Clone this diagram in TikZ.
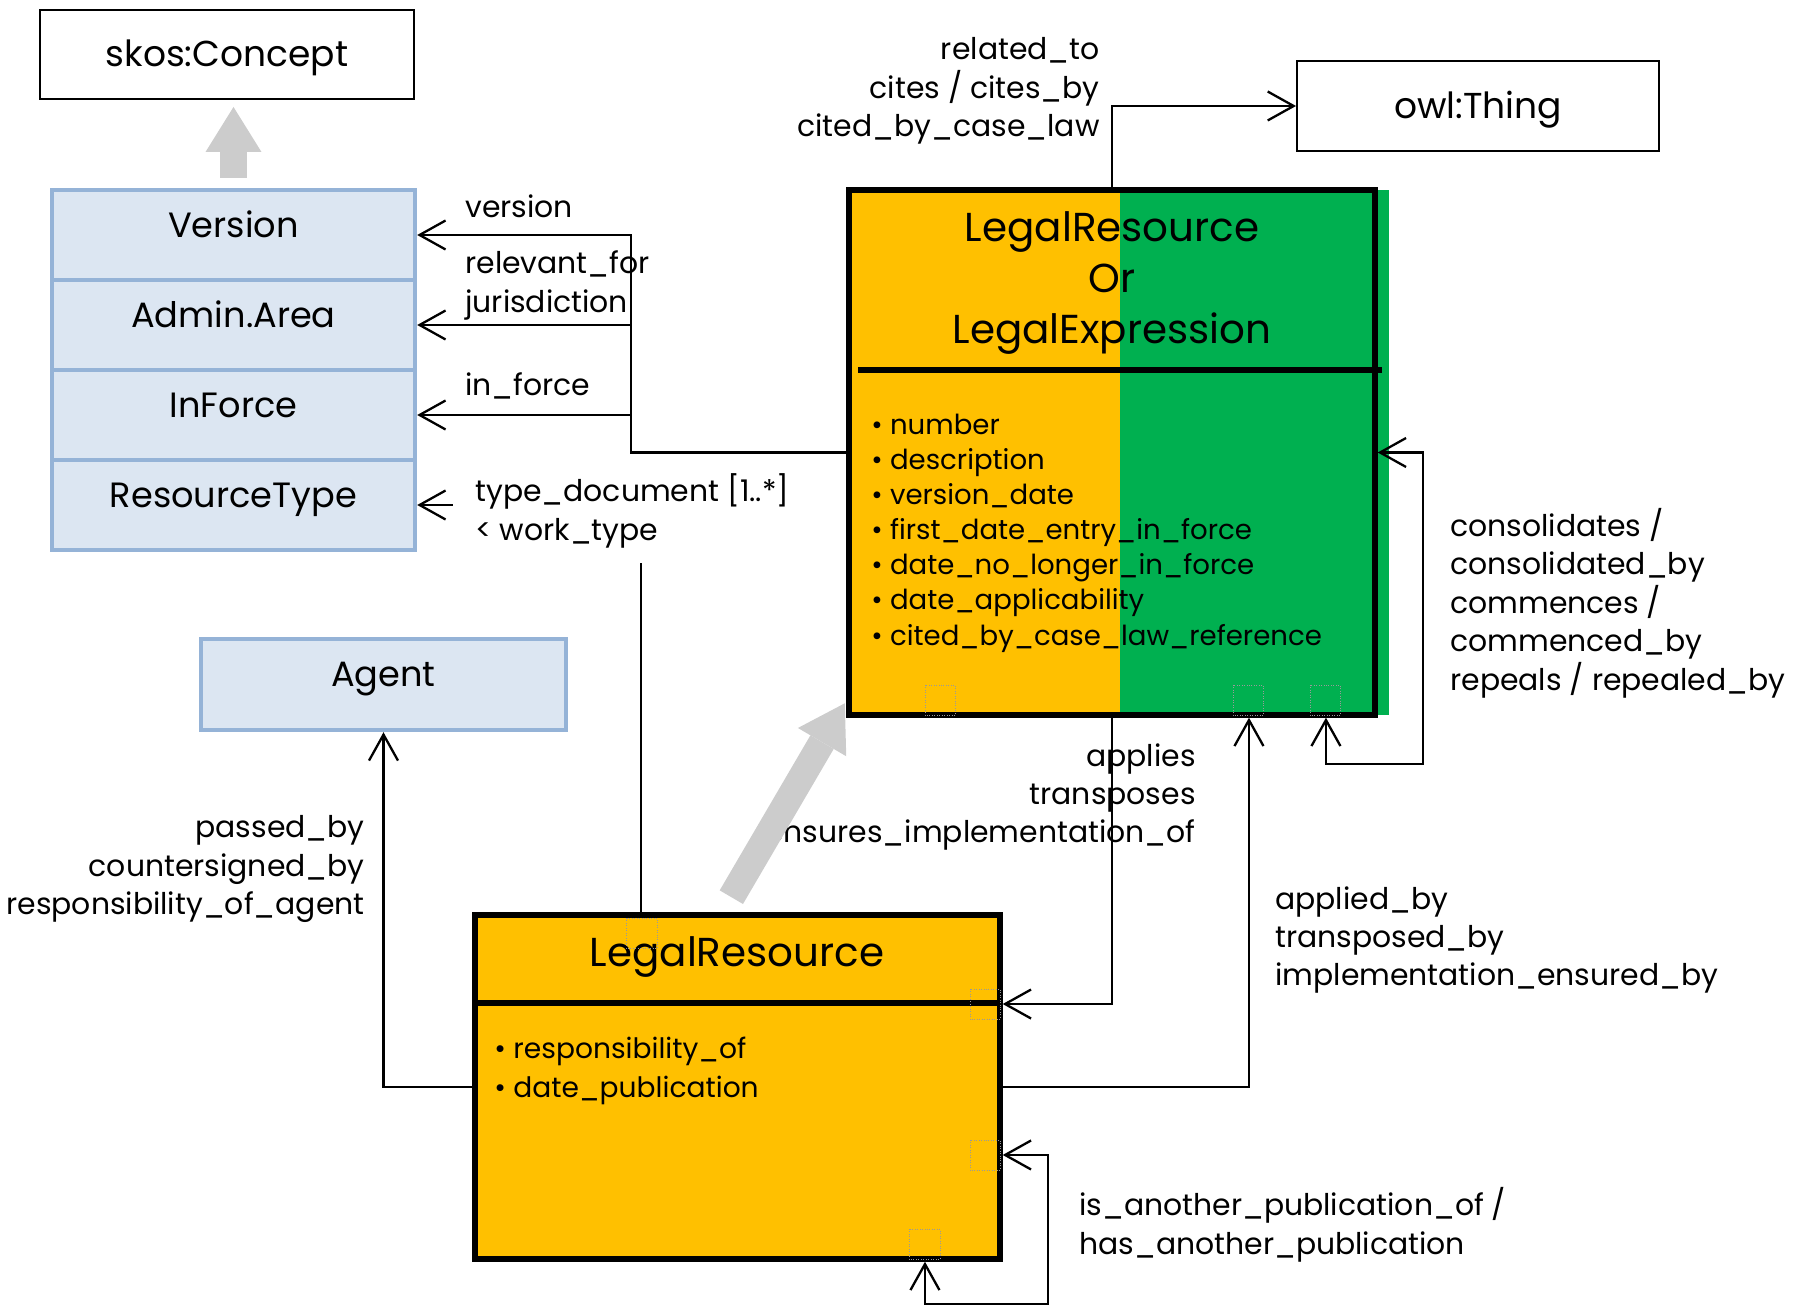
\documentclass[tikz,border=0pt]{standalone}
\usepackage{fontspec}
\setmainfont{Poppins}
\definecolor{legalorange}{RGB}{255, 192, 0}
\definecolor{legalgreen}{RGB}{0, 176, 80}
\definecolor{skosfill}{RGB}{220, 230, 242}
\definecolor{skosedge}{RGB}{149, 179, 215}
\definecolor{inheritgray}{RGB}{204, 204, 204}
\usetikzlibrary{arrows.meta, positioning, calc}

\begin{document}
\begin{tikzpicture}[x=0.02cm, y=-0.02cm,
  thingbox/.style={draw=black, line width=0.04cm, inner sep=0pt, text height=14pt, text depth=0pt,
    font=\fontsize{20.5}{24}\selectfont},
  skosbox/.style={draw=skosedge, fill=skosfill, line width=0.09cm, inner sep=0pt, minimum height=1.8cm,
    text height=13pt, text depth=10.5pt, font=\fontsize{20}{24}\selectfont},
  classbox/.style={draw=black, line width=0.11cm, inner sep=0pt},
  lbl/.style={inner sep=0pt, font=\fontsize{17}{21.9}\selectfont},
  assoc/.style={draw=black, line width=0.046cm, -{Straight Barb[length=0.52cm, width=0.58cm]}},
  bothassoc/.style={assoc, {Straight Barb[length=0.52cm, width=0.58cm]}-{Straight Barb[length=0.52cm, width=0.58cm]}},
  inherit/.style={draw=inheritgray, line width=0.54cm, -{Triangle[length=0.9cm, width=1.12cm, line width=0pt]}},
  portmark/.style={draw=gray!80, densely dotted, line width=0.4pt}]
  \useasboundingbox (0,0) rectangle (1803,1307);

  % outside vocabularies
  \node[thingbox, minimum width=7.48cm, minimum height=1.78cm] (skos) at (227,54.5) {skos:Concept};
  \node[thingbox, minimum width=7.24cm, minimum height=1.8cm] (owl) at (1478,106) {owl:Thing};

  % skos concept schemes
  \node[skosbox, minimum width=7.26cm] (ver) at (233.5,235) {Version};
  \node[skosbox, minimum width=7.26cm] (adm) at (233.5,325) {Admin.Area};
  \node[skosbox, minimum width=7.26cm] (inf) at (233.5,415) {InForce};
  \node[skosbox, minimum width=7.26cm] (rtype) at (233.5,505) {ResourceType};
  \node[skosbox, minimum width=7.3cm, minimum height=1.82cm] (agent) at (383.5,684.5) {Agent};

  % LegalResource or LegalExpression
  \fill[legalorange] (849,190) rectangle (1120,715);
  \fill[legalgreen] (1120,190) rectangle (1389,715);
  \node[classbox, minimum width=10.52cm, minimum height=10.5cm] (lre) at (1112,452.5) {};
  \draw[line width=0.11cm] (858,370) -- (1382,370);
  \node[align=center, inner sep=0pt, font=\fontsize{23}{29}\selectfont] (lretitle) at (1112,283)
    {LegalResource\\Or\\LegalExpression};
  \node[anchor=west, align=left, inner sep=0pt, font=\fontsize{15.7}{20}\selectfont] (lreattrs) at (871,533) {
    \textbullet\ number\\
    \textbullet\ description\\
    \textbullet\ version\_date\\
    \textbullet\ first\_date\_entry\_in\_force\\
    \textbullet\ date\_no\_longer\_in\_force\\
    \textbullet\ date\_applicability\\
    \textbullet\ cited\_by\_case\_law\_reference};

  % LegalResource
  \node[classbox, fill=legalorange, minimum width=10.5cm, minimum height=6.88cm] (lr) at (737.5,1087) {};
  \draw[line width=0.11cm] (475,1003) -- (1000,1003);
  \node[inner sep=0pt, font=\fontsize{23}{29}\selectfont] (lrtitle) at (737,957) {LegalResource};
  \node[anchor=west, align=left, inner sep=0pt, font=\fontsize{16}{22.2}\selectfont] (lrattrs) at (494,1071) {
    \textbullet\ responsibility\_of\\
    \textbullet\ date\_publication};

  % properties
  \coordinate (vjoin) at (631,235);
  \coordinate (rtbend) at (641,505);
  \coordinate (lreloop) at (1423,764);
  \coordinate (lrloop) at (1048,1304);
  \draw[assoc] (lre.west) -| (vjoin) -- (ver.east);
  \draw[assoc] (vjoin |- adm.east) -- (adm.east);
  \draw[assoc] (vjoin |- inf.east) -- (inf.east);
  \draw[assoc] (rtbend |- lr.north) -- (rtbend) -- (rtype.east);
  \draw[assoc] (lre.north) |- (owl.west);
  \draw[bothassoc] ([xshift=4.28cm]lre.south) |- (lreloop) |- (lre.east);
  \draw[assoc] (lre.south) |- ([yshift=1.66cm]lr.east);
  \draw[assoc] (lr.east) -| ([xshift=2.74cm]lre.south);
  \draw[bothassoc] ([yshift=-1.36cm]lr.east) -| (lrloop) -| ([xshift=3.75cm]lr.south);
  \draw[assoc] (lr.west) -| (agent.south);

  % property names
  \node[lbl, anchor=west] (lblversion) at (465,206) {version};
  \node[lbl, anchor=west, align=left] (lbljur) at (465,285.5) {relevant\_for\\jurisdiction};
  \node[lbl, anchor=west] (lblinforce) at (465,386) {in\_force};
  \node[lbl, anchor=west, align=left, fill=white, inner xsep=0.44cm, inner ysep=0.3cm] (lbltype) at (453,511)
    {type\_document [1..*]\\< work\_type};
  \node[lbl, anchor=east, align=right] (lblrelated) at (1100,91) {related\_to\\cites / cites\_by\\cited\_by\_case\_law};
  \node[lbl, anchor=west, align=left] (lblconsol) at (1450,603)
    {consolidates /\\consolidated\_by\\commences /\\commenced\_by\\repeals / repealed\_by};
  \node[lbl, anchor=east, align=right] (lblapplies) at (1196,797) {applies\\transposes\\ensures\_implementation\_of};
  \node[lbl, anchor=west, align=left] (lblapplied) at (1275,940) {applied\_by\\transposed\_by\\implementation\_ensured\_by};
  \node[lbl, anchor=west, align=left] (lblpub) at (1079,1225) {is\_another\_publication\_of /\\has\_another\_publication};
  \node[lbl, anchor=east, align=right] (lblagent) at (365,869) {passed\_by\\countersigned\_by\\responsibility\_of\_agent};

  % subclass arrows
  \draw[inherit, shorten <=0.2cm, shorten >=0.14cm] (ver.north) -- (ver.north |- skos.south);
  \draw[inherit, shorten <=0.35cm, shorten >=0.06cm] ([xshift=-0.3cm]lr.north) -- ([yshift=0.34cm]lre.south west);

  % connection points
  \draw[portmark] (925,685) rectangle (955,715);
  \draw[portmark] (1233,685) rectangle (1263,715);
  \draw[portmark] (1310,685) rectangle (1340,715);
  \draw[portmark] (626,918) rectangle (657,948);
  \draw[portmark] (970,989) rectangle (1000,1019);
  \draw[portmark] (970,1140) rectangle (1000,1170);
  \draw[portmark] (909,1229) rectangle (940,1259);
\end{tikzpicture}
\end{document}
